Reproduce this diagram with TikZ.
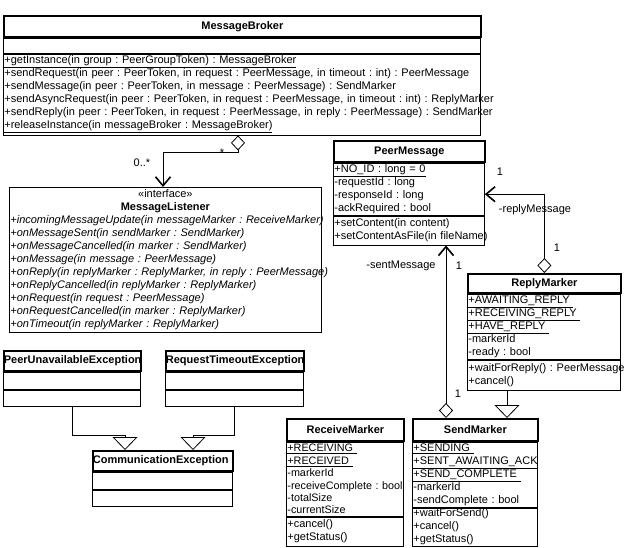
\documentclass[tikz,border=0pt]{standalone}
\usepackage{fontspec}
\setmainfont{Liberation Sans}
\usetikzlibrary{arrows.meta}

\tikzset{
	classname/.style={draw, line width=1.8pt, anchor=north west, inner sep=0pt, align=center, font=\fontsize{11pt}{13pt}\selectfont\bfseries},
	members/.style={draw, line width=0.8pt, anchor=north west, inner xsep=1pt, inner ysep=0pt, align=left, font=\fontsize{11pt}{13pt}\selectfont\frenchspacing},
	aggr/.style={line width=0.8pt, arrows={Diamond[open,length=15pt,width=14pt]-Straight Barb[length=9pt,width=15pt,line width=1.6pt]}},
	genr/.style={line width=0.8pt, arrows={-Triangle[open,length=13pt,width=25pt,line width=0.8pt]}},
	mult/.style={inner sep=0pt, font=\fontsize{11pt}{13pt}\selectfont}
}

\begin{document}
\begin{tikzpicture}[x=1pt, y=-1pt]
	\useasboundingbox (0,0) rectangle (626,547);

	\node [ classname, text width=477pt, minimum height=21pt ] (bkrname) at (3,15) {MessageBroker};
	\node [ members, text width=475pt, minimum height=15pt ] (bkrattr) at (bkrname.south west) {};
	\node [ members, text width=475pt, minimum height=81pt ] (bkrops) at (bkrattr.south west) {
		\underline{\mbox{+getInstance(in group : PeerGroupToken) : MessageBroker}}\\
		\mbox{+sendRequest(in peer : PeerToken, in request : PeerMessage, in timeout : int) : PeerMessage}\\
		\mbox{+sendMessage(in peer : PeerToken, in message : PeerMessage) : SendMarker}\\
		\mbox{+sendAsyncRequest(in peer : PeerToken, in request : PeerMessage, in timeout : int) : ReplyMarker}\\
		\mbox{+sendReply(in peer : PeerToken, in request : PeerMessage, in reply : PeerMessage) : SendMarker}\\
		\underline{\mbox{+releaseInstance(in messageBroker : MessageBroker)}}};

	\node [ members, text width=310pt, minimum height=145pt ] (lsn) at (9,187) {
		\hfill«interface»\hfill\null\\
		\hfill\textbf{MessageListener}\hfill\null\\
		\itshape\mbox{+incomingMessageUpdate(in messageMarker : ReceiveMarker)}\\
		\mbox{+onMessageSent(in sendMarker : SendMarker)}\\
		\mbox{+onMessageCancelled(in marker : SendMarker)}\\
		\mbox{+onMessage(in message : PeerMessage)}\\
		\mbox{+onReply(in replyMarker : ReplyMarker, in reply : PeerMessage)}\\
		\mbox{+onReplyCancelled(in replyMarker : ReplyMarker)}\\
		\mbox{+onRequest(in request : PeerMessage)}\\
		\mbox{+onRequestCancelled(in marker : ReplyMarker)}\\
		\mbox{+onTimeout(in replyMarker : ReplyMarker)}};

	\node [ classname, text width=151pt, minimum height=21pt ] (pmname) at (333,140) {PeerMessage};
	\node [ members, text width=149pt, minimum height=52pt ] (pmattr) at (pmname.south west) {
		\underline{\mbox{+NO\_ID : long = 0}}\\
		\mbox{-requestId : long}\\
		\mbox{-responseId : long}\\
		\mbox{-ackRequired : bool}};
	\node [ members, text width=149pt, minimum height=29pt ] (pmops) at (pmattr.south west) {
		\mbox{+setContent(in content)}\\
		\mbox{+setContentAsFile(in fileName)}};

	\node [ classname, text width=153pt, minimum height=19pt ] (rplname) at (467,273) {ReplyMarker};
	\node [ members, text width=151pt, minimum height=65pt ] (rplattr) at (rplname.south west) {
		\underline{+AWAITING\_REPLY\ }\\
		\underline{+RECEIVING\_REPLY\ }\\
		\underline{+HAVE\_REPLY\ }\\
		-markerId\\
		\mbox{-ready : bool}};
	\node [ members, text width=151pt, minimum height=30pt ] (rplops) at (rplattr.south west) {
		\mbox{+waitForReply() : PeerMessage}\\
		+cancel()};

	\node [ classname, text width=117pt, minimum height=22pt ] (rcvname) at (286,418) {ReceiveMarker};
	\node [ members, text width=115pt, minimum height=74pt, font=\fontsize{10.8pt}{12.4pt}\selectfont\frenchspacing ] (rcvattr) at (rcvname.south west) {
		\underline{+RECEIVING\ }\\
		\underline{+RECEIVED\ }\\
		-markerId\\
		\mbox{-receiveComplete : bool}\\
		-totalSize\\
		-currentSize};
	\node [ members, text width=115pt, minimum height=29pt ] (rcvops) at (rcvattr.south west) {
		+cancel()\\
		+getStatus()};

	\node [ classname, text width=125pt, minimum height=22pt ] (sndname) at (412,418) {SendMarker};
	\node [ members, text width=123pt, minimum height=65pt ] (sndattr) at (sndname.south west) {
		\underline{+SENDING\ }\\
		\underline{+SENT\_AWAITING\_ACK}\\
		\underline{+SEND\_COMPLETE\ }\\
		-markerId\\
		\mbox{-sendComplete : bool}};
	\node [ members, text width=123pt, minimum height=38pt ] (sndops) at (sndattr.south west) {
		+waitForSend()\\
		+cancel()\\
		+getStatus()};

	\node [ classname, align=left, text width=137pt, minimum height=20pt ] (puexname) at (3,350) {PeerUnavailableException};
	\node [ members, text width=135pt, minimum height=17pt ] (puexattr) at (puexname.south west) {};
	\node [ members, text width=135pt, minimum height=16pt ] (puexops) at (puexattr.south west) {};

	\node [ classname, align=left, text width=138pt, minimum height=20pt ] (rtexname) at (165,350) {RequestTimeoutException};
	\node [ members, text width=136pt, minimum height=17pt ] (rtexattr) at (rtexname.south west) {};
	\node [ members, text width=136pt, minimum height=16pt ] (rtexops) at (rtexattr.south west) {};

	\node [ classname, align=left, text width=140pt, minimum height=20pt ] (cexname) at (92,450) {CommunicationException};
	\node [ members, text width=138pt, minimum height=17pt ] (cexattr) at (cexname.south west) {};
	\node [ members, text width=138pt, minimum height=16pt ] (cexops) at (cexattr.south west) {};

	\coordinate (aggx) at (238,0);
	\coordinate (navx) at (163,0);
	\coordinate (sentx) at (446,0);
	\coordinate (genx) at (507,0);
	\coordinate (celeft) at (125,0);
	\coordinate (ceright) at (193,0);

	\draw [aggr] (bkrops.south -| aggx) -- ++(0,17) -| (lsn.north -| navx);
	\node [mult] (aggstar) at (222,153) {*};
	\node [mult] (aggmany) at (142,163) {0..*};

	\draw [aggr] (rplname.north) |- ([yshift=-5pt]pmattr.east);
	\node [mult] (rplone) at (500,172) {1};
	\node [mult] (rplrole) at (535,210) {-replyMessage};
	\node [mult] (rplmany) at (557,248) {1};

	\draw [aggr] (sndname.north -| sentx) -- (pmops.south -| sentx);
	\node [mult] (sentrole) at (401,266) {-sentMessage};
	\node [mult] (sentone) at (459,266) {1};
	\node [mult] (sentmany) at (458,394) {1};

	\draw [genr] (rplops.south -| genx) -- (sndname.north -| genx);
	\draw [genr] (puexops.south) -- ++(0,29) -| (cexname.north -| celeft);
	\draw [genr] (rtexops.south) -- ++(0,29) -| (cexname.north -| ceright);
\end{tikzpicture}
\end{document}
